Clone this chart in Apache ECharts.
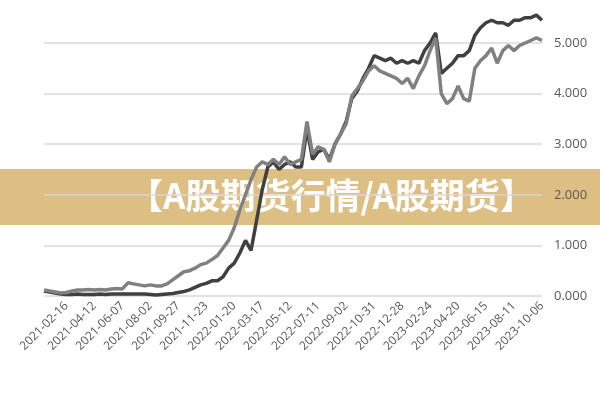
<!DOCTYPE html>
<html><head><meta charset="utf-8">
<script src="https://cdn.jsdelivr.net/npm/echarts@6/dist/echarts.min.js"></script>
<style>html,body{margin:0;padding:0;background:#fff}#c{width:600px;height:400px}</style>
</head><body><div id="c"></div>
<script>
const tickLabels = ['2021-02-16','2021-04-12','2021-06-07','2021-08-02','2021-09-27','2021-11-23','2022-01-20','2022-03-17','2022-05-12','2022-07-11','2022-09-02','2022-10-31','2022-12-28','2023-02-24','2023-04-20','2023-06-15','2023-08-11','2023-10-06'];
const seriesLight = [0.12,0.1,0.08,0.06,0.07,0.1,0.12,0.12,0.13,0.12,0.13,0.12,0.14,0.15,0.14,0.26,0.24,0.22,0.2,0.22,0.2,0.2,0.24,0.32,0.4,0.48,0.5,0.55,0.62,0.65,0.72,0.8,0.95,1.1,1.35,1.7,2.0,2.3,2.55,2.65,2.6,2.7,2.6,2.75,2.6,2.65,2.7,3.45,2.8,2.95,2.9,2.65,3.0,3.2,3.4,3.95,4.1,4.25,4.45,4.55,4.45,4.4,4.35,4.3,4.2,4.3,4.1,4.35,4.55,4.85,5.1,4.0,3.8,3.9,4.15,3.9,3.85,4.5,4.65,4.75,4.9,4.6,4.85,4.95,4.85,4.95,5.0,5.05,5.1,5.05];
const seriesDark = [0.1,0.08,0.06,0.04,0.03,0.03,0.04,0.03,0.03,0.03,0.04,0.03,0.04,0.04,0.04,0.04,0.04,0.04,0.04,0.03,0.02,0.03,0.04,0.05,0.07,0.09,0.12,0.17,0.22,0.25,0.3,0.3,0.38,0.55,0.65,0.85,1.1,0.9,1.5,2.1,2.55,2.65,2.5,2.6,2.65,2.55,2.55,3.3,2.7,2.85,2.9,2.7,3.0,3.2,3.45,3.9,4.05,4.3,4.5,4.75,4.7,4.65,4.7,4.6,4.65,4.6,4.65,4.6,4.85,5.0,5.2,4.4,4.5,4.6,4.75,4.75,4.85,5.15,5.3,5.4,5.45,5.4,5.4,5.35,5.45,5.45,5.5,5.5,5.55,5.45];
const fmt = d => d.toISOString().slice(0,10);
const cats = [];
const t0 = new Date(tickLabels[0]+'T00:00:00Z');
for (let j=4;j>=1;j--) cats.push(fmt(new Date(t0.getTime()-j*11*864e5)));
for (let i=0;i<tickLabels.length;i++){
  cats.push(tickLabels[i]);
  if (i<tickLabels.length-1){
    const a=new Date(tickLabels[i]+'T00:00:00Z').getTime(), b=new Date(tickLabels[i+1]+'T00:00:00Z').getTime();
    for (let s=1;s<5;s++) cats.push(fmt(new Date(a+(b-a)*s/5)));
  }
}
const chart = echarts.init(document.getElementById('c'));
chart.setOption({
  animation:false,
  grid:{left:44,right:58,top:43,bottom:104},
  xAxis:{type:'category',data:cats,boundaryGap:false,
    axisLine:{show:false},axisTick:{show:false},
    axisLabel:{interval:(i,v)=>tickLabels.includes(v),rotate:45,color:'#595959',fontSize:12,fontFamily:'Open Sans',margin:8}},
  yAxis:{type:'value',position:'right',min:0,max:5,interval:1,
    axisLine:{show:false},axisTick:{show:false},
    splitLine:{lineStyle:{color:'#d9d9d9',width:1.5}},
    axisLabel:{formatter:v=>v.toFixed(3),color:'#595959',fontSize:13,fontFamily:'Open Sans',margin:12}},
  series:[
    {type:'line',data:seriesDark,symbol:'none',clip:false,lineStyle:{color:'#404040',width:3.5}},
    {type:'line',data:seriesLight,symbol:'none',clip:false,lineStyle:{color:'#808080',width:3.5}}
  ],
  graphic:[
    {type:'rect',left:0,top:169,shape:{width:600,height:56},style:{fill:'rgba(214,176,104,0.82)'}},
    {type:'text',left:128,top:178,style:{text:'【A股期货行情/A股期货】',fill:'#fff',font:'bold 35px "Noto Sans CJK SC"'}}
  ]
});
</script></body></html>
